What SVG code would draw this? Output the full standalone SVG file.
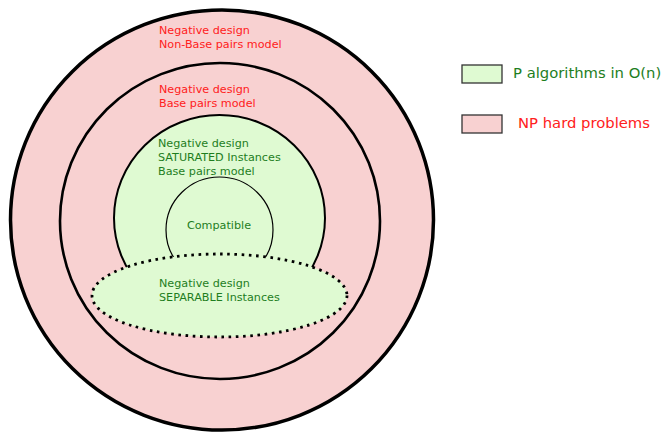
<svg xmlns="http://www.w3.org/2000/svg" width="664" height="432" viewBox="0 0 664 432">
<style>
text{font-family:"DejaVu Sans",Verdana,sans-serif;font-size:11.2px}
.red{fill:#ff2020}
.grn{fill:#1e7e1e}
.np{fill:#f8d1d1}
.p{fill:#dffad2}
.ln{stroke:#000;fill-rule:nonzero}
</style>
<rect width="664" height="432" fill="#fff"/>
<g id="nonbase">
<ellipse cx="222" cy="220" rx="211.5" ry="210" class="np ln" stroke-width="3.5"/>
<text class="red" x="159" y="34">Negative design</text>
<text class="red" x="159" y="48">Non-Base pairs model</text>
</g>
<g id="basepairs">
<ellipse cx="220" cy="221" rx="160" ry="158" class="np ln" stroke-width="2.6"/>
<text class="red" x="159" y="93">Negative design</text>
<text class="red" x="159" y="107">Base pairs model</text>
</g>
<g id="saturated">
<ellipse cx="219.5" cy="218" rx="105.5" ry="103" class="p ln" stroke-width="2"/>
<text class="grn" x="158" y="147">Negative design</text>
<text class="grn" x="158" y="161">SATURATED Instances</text>
<text class="grn" x="158" y="175">Base pairs model</text>
</g>
<g id="compatible">
<ellipse cx="219.5" cy="230" rx="53.5" ry="53" class="p ln" stroke-width="1.2"/>
<text class="grn" x="219" y="229" text-anchor="middle">Compatible</text>
</g>
<g id="separable">
<ellipse cx="219.5" cy="295.5" rx="127.5" ry="41.5" class="p" stroke="#000" stroke-width="2.8" stroke-dasharray="2.6,4.6"/>
<text class="grn" x="159" y="287">Negative design</text>
<text class="grn" x="159" y="301">SEPARABLE Instances</text>
</g>
<g id="legend-p">
<rect x="462" y="65" width="40" height="18" class="p" stroke="#333" stroke-width="1.3"/>
<text class="grn" x="513" y="78" style="font-size:14.8px">P algorithms in O(n)</text>
</g>
<g id="legend-np">
<rect x="462" y="115" width="40" height="18" class="np" stroke="#333" stroke-width="1.3"/>
<text class="red" x="518" y="128" style="font-size:14.8px">NP hard problems</text>
</g>
</svg>
